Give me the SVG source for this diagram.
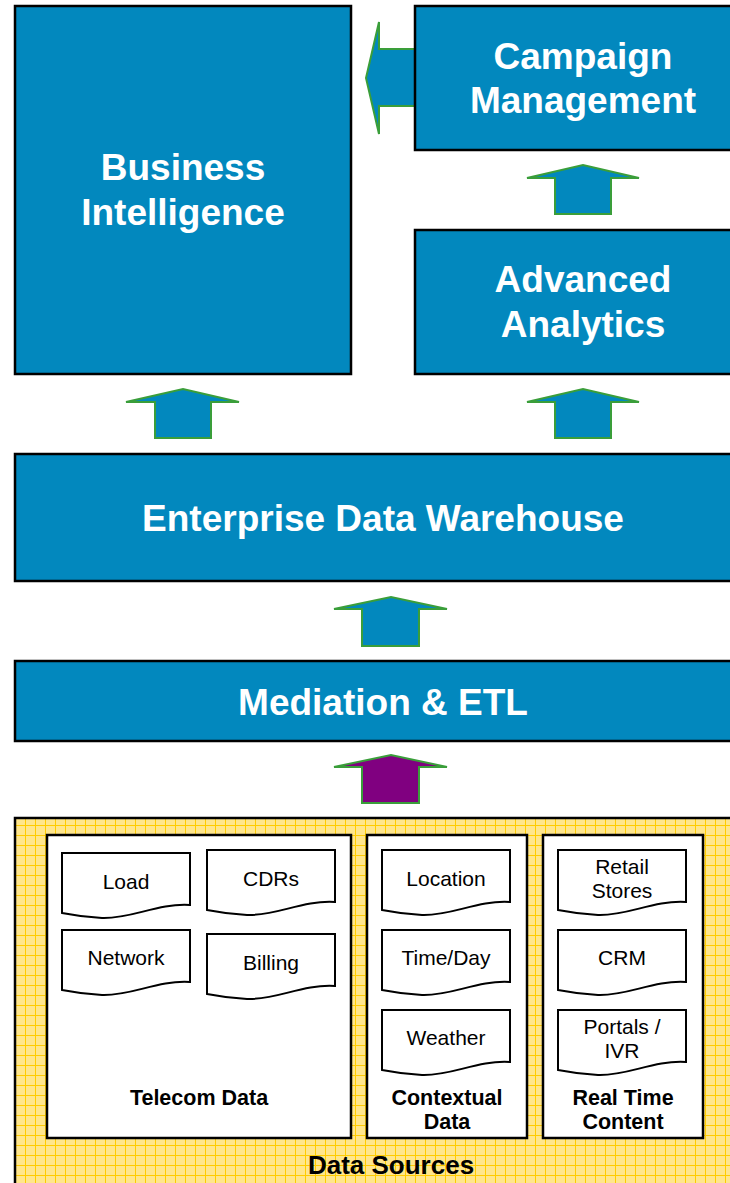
<svg xmlns="http://www.w3.org/2000/svg" width="730" height="1183" viewBox="0 0 730 1183">
<style>
.box{fill:#0288BE;stroke:#000;stroke-width:2.5}
.big{font-family:"Liberation Sans",Arial,sans-serif;font-weight:bold;font-size:37px;fill:#fff;text-anchor:middle}
.arr{fill:#0288BE;stroke:#3A9E3A;stroke-width:2;stroke-linejoin:miter}
.arrp{fill:#800080;stroke:#3A9E3A;stroke-width:2}
.panel{fill:#fff;stroke:#000;stroke-width:2.5}
.doc{fill:#fff;stroke:#000;stroke-width:2}
.dt{font-family:"Liberation Sans",Arial,sans-serif;font-size:21px;fill:#000;text-anchor:middle}
.lb{font-family:"Liberation Sans",Arial,sans-serif;font-weight:bold;font-size:21.5px;fill:#000;text-anchor:middle}
.title{font-family:"Liberation Sans",Arial,sans-serif;font-weight:bold;font-size:26px;fill:#000;text-anchor:middle}
</style>
<defs>
<pattern id="grid" x="5" y="5" width="10" height="10" patternUnits="userSpaceOnUse">
<rect width="10" height="10" fill="#FFE68C"/>
<path d="M0,0.5H10M0.5,0V10" stroke="#FFCC00" stroke-width="1" fill="none"/>
</pattern>
<path id="docshape" d="M0,0H128V52C95,50 70,66 40,65C22,64 10,62 0,60Z"/>
</defs>

<g id="connectors">
<path class="arr" d="M415,49H379V22L366,78L379,134V106H415"/>
<path class="arr" d="M555,214V178H527L583,165L639,178H611V214Z"/>
<path class="arr" d="M155,438V402H126L183,389L239,402H211V438Z"/>
<path class="arr" d="M555,438V402H527L583,389L639,402H611V438Z"/>
<path class="arr" d="M362,646V609H334L391,597L447,609H419V646Z"/>
<path class="arrp" d="M362,803V767H334L391,755L447,767H419V803Z"/>
</g>

<g id="bi">
<rect class="box" x="15" y="6" width="336" height="368"/>
<text class="big" x="183" y="180">Business</text>
<text class="big" x="183" y="225">Intelligence</text>
</g>
<g id="campaign">
<rect class="box" x="415" y="6" width="320" height="144"/>
<text class="big" x="583" y="69">Campaign</text>
<text class="big" x="583" y="113">Management</text>
</g>
<g id="analytics">
<rect class="box" x="415" y="230" width="320" height="144"/>
<text class="big" x="583" y="292">Advanced</text>
<text class="big" x="583" y="337">Analytics</text>
</g>
<g id="edw">
<rect class="box" x="15" y="454" width="720" height="127"/>
<text class="big" x="383" y="531">Enterprise Data Warehouse</text>
</g>
<g id="etl">
<rect class="box" x="15" y="661" width="720" height="80"/>
<text class="big" x="383" y="715">Mediation &amp; ETL</text>
</g>

<g id="datasources">
<rect x="15" y="818" width="720" height="370" fill="url(#grid)" stroke="#000" stroke-width="2.5"/>
<text class="title" x="391" y="1174">Data Sources</text>
</g>

<g id="telecom">
<rect class="panel" x="47" y="835" width="304" height="303"/>
<text class="lb" x="199" y="1105">Telecom Data</text>
<g id="doc-load"><use href="#docshape" class="doc" x="62" y="853"/><text class="dt" x="126" y="889">Load</text></g>
<g id="doc-cdrs"><use href="#docshape" class="doc" x="207" y="850"/><text class="dt" x="271" y="886">CDRs</text></g>
<g id="doc-network"><use href="#docshape" class="doc" x="62" y="930"/><text class="dt" x="126" y="965">Network</text></g>
<g id="doc-billing"><use href="#docshape" class="doc" x="207" y="934"/><text class="dt" x="271" y="970">Billing</text></g>
</g>

<g id="contextual">
<rect class="panel" x="367" y="835" width="160" height="303"/>
<text class="lb" x="447" y="1105">Contextual</text>
<text class="lb" x="447" y="1129">Data</text>
<g id="doc-location"><use href="#docshape" class="doc" x="382" y="850"/><text class="dt" x="446" y="886">Location</text></g>
<g id="doc-time"><use href="#docshape" class="doc" x="382" y="930"/><text class="dt" x="446" y="965">Time/Day</text></g>
<g id="doc-weather"><use href="#docshape" class="doc" x="382" y="1010"/><text class="dt" x="446" y="1045">Weather</text></g>
</g>

<g id="realtime">
<rect class="panel" x="543" y="835" width="160" height="303"/>
<text class="lb" x="623" y="1105">Real Time</text>
<text class="lb" x="623" y="1129">Content</text>
<g id="doc-retail"><use href="#docshape" class="doc" x="558" y="850"/><text class="dt" x="622" y="874">Retail</text><text class="dt" x="622" y="898">Stores</text></g>
<g id="doc-crm"><use href="#docshape" class="doc" x="558" y="930"/><text class="dt" x="622" y="965">CRM</text></g>
<g id="doc-portals"><use href="#docshape" class="doc" x="558" y="1010"/><text class="dt" x="622" y="1034">Portals /</text><text class="dt" x="622" y="1058">IVR</text></g>
</g>
</svg>
